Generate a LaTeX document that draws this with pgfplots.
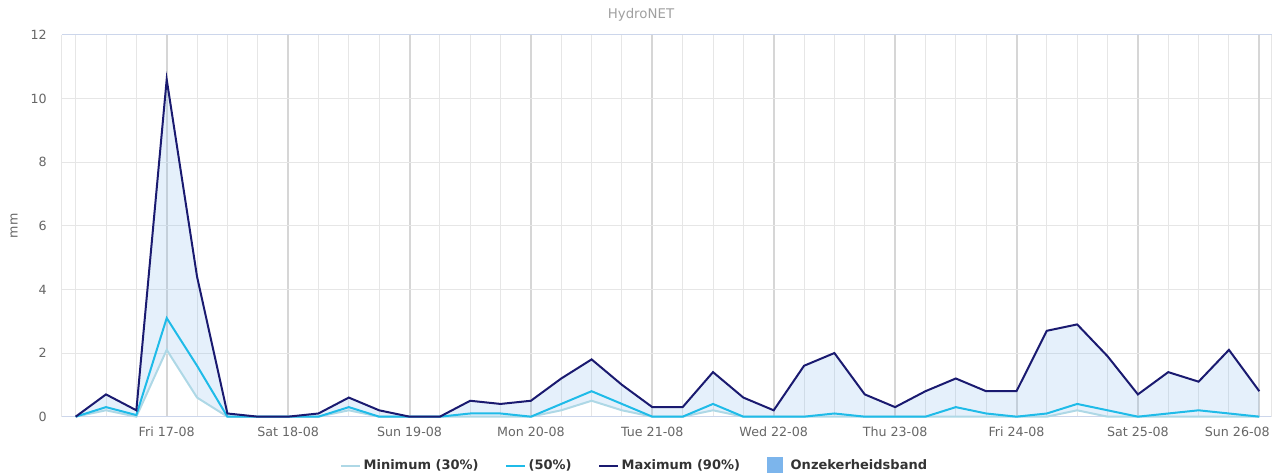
\documentclass[border=0pt]{standalone}
\usepackage{pgfplots}
\pgfplotsset{compat=1.18}
\usepackage{pgfplotstable}
\usepgfplotslibrary{fillbetween}
\usepackage{fontspec}
\setmainfont{DejaVu Sans}
\definecolor{cmax}{HTML}{1A1A70}
\definecolor{cmed}{HTML}{1FBBE8}
\definecolor{cmin}{HTML}{AED8E6}
\definecolor{cband}{HTML}{7CB5EC}
\definecolor{gridminor}{HTML}{E6E6E6}
\definecolor{gridmajor}{HTML}{D6D6D6}
\definecolor{axisline}{HTML}{CCD6EB}
\definecolor{labelgray}{HTML}{666666}
\definecolor{titlegray}{HTML}{A0A0A0}
\definecolor{legtext}{HTML}{333333}

\pgfplotstableread{
i  lo   med  hi
0  0    0    0
1  0.2  0.3  0.7
2  0    0.05 0.2
3  2.1  3.1  10.6
4  0.6  1.6  4.4
5  0    0    0.1
6  0    0    0
7  0    0    0
8  0    0    0.1
9  0.2  0.3  0.6
10 0    0    0.2
11 0    0    0
12 0    0    0
13 0    0.1  0.5
14 0    0.1  0.4
15 0    0    0.5
16 0.2  0.4  1.2
17 0.5  0.8  1.8
18 0.2  0.4  1.0
19 0    0    0.3
20 0    0    0.3
21 0.2  0.4  1.4
22 0    0    0.6
23 0    0    0.2
24 0    0    1.6
25 0    0.1  2.0
26 0    0    0.7
27 0    0    0.3
28 0    0    0.8
29 0    0.3  1.2
30 0    0.1  0.8
31 0    0    0.8
32 0    0.1  2.7
33 0.2  0.4  2.9
34 0    0.2  1.9
35 0    0    0.7
36 0    0.1  1.4
37 0    0.2  1.1
38 0    0.1  2.1
39 0    0    0.8
}\datatable

\begin{document}
\begin{tikzpicture}
\begin{axis}[
  at={(0,0)}, anchor=south west,
  scale only axis,
  width=907.3pt, height=286.3pt,
  xmin=-0.45, xmax=39.41,
  ymin=0, ymax=12,
  ytick={0,2,...,12},
  xtick={3,7,11,15,19,23,27,31,35},
  xticklabels={Fri 17-08,Sat 18-08,Sun 19-08,Mon 20-08,Tue 21-08,Wed 22-08,Thu 23-08,Fri 24-08,Sat 25-08},
  extra x ticks={39},
  extra x tick labels={Sun 26-08},
  extra x tick style={xticklabel style={xshift=-16.5pt}},
  minor xtick={0,...,39},
  xmajorgrids, xminorgrids, ymajorgrids,
  major x grid style={draw=gridmajor, line width=1.5pt},
  minor x grid style={draw=gridminor, line width=0.75pt},
  major y grid style={draw=gridminor, line width=0.75pt},
  major tick length=0pt, minor tick length=0pt,
  separate axis lines,
  x axis line style={draw=axisline, line width=0.75pt},
  y axis line style={draw=gridminor, line width=0.75pt},
  ticklabel style={font=\fontsize{9.5}{11}\selectfont, text=labelgray},
  xticklabel style={anchor=base, inner sep=0pt, yshift=-15pt},
  yticklabel style={anchor=east, inner sep=0pt, xshift=-11.25pt},
  /pgf/number format/assume math mode=true,
  every axis y label/.style={at={(axis description cs:-0.0397,0.5)}, anchor=center, rotate=90, font=\fontsize{9.5}{11}\selectfont, text=labelgray},
  ylabel={mm},
  title={HydroNET},
  every axis title/.style={at={(axis description cs:0.4786,1.052)}, anchor=center, font=\fontsize{10}{12}\selectfont, text=titlegray},
  legend style={at={(axis description cs:0.4737,-0.129)}, anchor=center, draw=none, fill=none,
    font=\bfseries\fontsize{9.75}{11}\selectfont, text=legtext,
    /tikz/every even column/.append style={column sep=18pt},
    inner sep=0pt},
  legend columns=4,
  legend image code/.code={\draw[#1, line width=1.5pt] (0pt,0pt) -- (14pt,0pt);},
  clip=false,
]
\addplot[name path=lo, cmin, line width=1.5pt] table[x=i, y=lo] {\datatable};
\addlegendentry{Minimum (30\%)}
\addplot[cmed, line width=1.5pt] table[x=i, y=med] {\datatable};
\addlegendentry{(50\%)}
\addplot[name path=hi, cmax, line width=1.5pt] table[x=i, y=hi] {\datatable};
\addlegendentry{Maximum (90\%)}
\addplot[fill=cband, fill opacity=0.2, draw=none, forget plot] fill between[of=hi and lo];
\addlegendimage{legend image code/.code={\fill[cband, draw=none] (-2pt,-5.5pt) rectangle (10pt,6.5pt); \path[draw=none, fill=none] (-2pt,0pt) -- (14pt,0pt);}}
\addlegendentry{Onzekerheidsband}
\end{axis}
\pgfresetboundingbox
\useasboundingbox (-46.5pt,-43.7pt) rectangle (915pt,312.5pt);
\end{tikzpicture}
\end{document}
